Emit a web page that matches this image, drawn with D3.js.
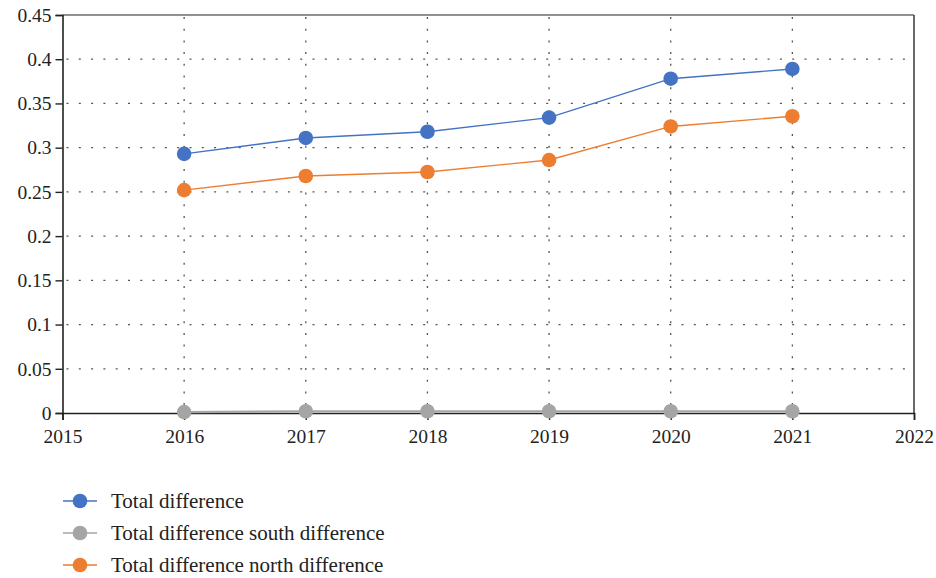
<!DOCTYPE html>
<html>
<head>
<meta charset="utf-8">
<script src="https://cdn.jsdelivr.net/npm/d3@7"></script>
<style>
  body { margin: 0; background: #fff; }
  text { font-family: "Liberation Serif", "DejaVu Serif", serif; fill: #222; }
</style>
</head>
<body>
<script>
// data
var years = [2016, 2017, 2018, 2019, 2020, 2021];
var totalDiff = [0.293, 0.311, 0.318, 0.334, 0.378, 0.389];
var southDiff = [0.001, 0.002, 0.002, 0.002, 0.002, 0.002];
var northDiff = [0.252, 0.268, 0.2725, 0.286, 0.324, 0.3355];
var xTicks = [2015, 2016, 2017, 2018, 2019, 2020, 2021, 2022];
var yTicks = [0, 0.05, 0.1, 0.15, 0.2, 0.25, 0.3, 0.35, 0.4, 0.45];

var series = [
  { name: "Total difference", values: totalDiff, color: "#4472C4" },
  { name: "Total difference south difference", values: southDiff, color: "#A5A5A5" },
  { name: "Total difference north difference", values: northDiff, color: "#ED7D31" }
];

var W = 936, H = 578;
var mLeft = 62.5, mRight = 914, mTop = 15, mBottom = 413;

var svg = d3.select("body").append("svg")
  .attr("width", W)
  .attr("height", H);

var x = d3.scaleLinear().domain([2015, 2022]).range([mLeft, mRight]);
var y = d3.scaleLinear().domain([0, 0.45]).range([mBottom, mTop]);

// dotted grid
svg.append("g").selectAll("line")
  .data(yTicks.filter(function(d) { return d > 0 && d < 0.45; }))
  .enter().append("line")
  .attr("x1", mLeft + 4).attr("x2", mRight - 6)
  .attr("y1", function(d) { return y(d); })
  .attr("y2", function(d) { return y(d); })
  .attr("stroke", "#555")
  .attr("stroke-width", 1.3)
  .attr("stroke-dasharray", "2,10.3");

svg.append("g").selectAll("line")
  .data(years)
  .enter().append("line")
  .attr("x1", function(d) { return x(d); })
  .attr("x2", function(d) { return x(d); })
  .attr("y1", mTop + 2).attr("y2", mBottom)
  .attr("stroke", "#555")
  .attr("stroke-width", 1.3)
  .attr("stroke-dasharray", "2,9.7");

// frame: top and right
svg.append("line")
  .attr("x1", mLeft).attr("x2", mRight)
  .attr("y1", mTop).attr("y2", mTop)
  .attr("stroke", "#222").attr("stroke-width", 1.2);
svg.append("line")
  .attr("x1", mRight).attr("x2", mRight)
  .attr("y1", mTop).attr("y2", mBottom)
  .attr("stroke", "#444").attr("stroke-width", 1.6);

// axes
var yAxis = svg.append("g")
  .attr("transform", "translate(" + mLeft + ",0)")
  .call(d3.axisLeft(y).tickValues(yTicks).tickSize(7).tickPadding(4)
    .tickFormat(function(d) { return String(+d.toFixed(2)); }));
var xAxis = svg.append("g")
  .attr("transform", "translate(0," + mBottom + ")")
  .call(d3.axisBottom(x).tickValues(xTicks).tickSize(7).tickPadding(9)
    .tickFormat(d3.format("d")));

[yAxis, xAxis].forEach(function(a) {
  a.select(".domain").attr("stroke", "#222").attr("stroke-width", 1.6);
  a.selectAll(".tick line").attr("stroke", "#222").attr("stroke-width", 1.4);
  a.selectAll("text").style("font-size", "19.5px").attr("fill", "#222");
});
xAxis.selectAll(".tick line").attr("y1", -3);
xAxis.selectAll(".tick").filter(function(d) { return d === 2015 || d === 2022; })
  .select("line").attr("y1", 0);

// lines and markers
var line = d3.line()
  .x(function(d, i) { return x(years[i]); })
  .y(function(d) { return y(d); });

var order = [1, 0, 2];
order.forEach(function(k) {
  var s = series[k];
  svg.append("path")
    .datum(s.values)
    .attr("fill", "none")
    .attr("stroke", s.color)
    .attr("stroke-width", k === 1 ? 2.2 : 1.4)
    .attr("d", line);
  svg.append("g").selectAll("circle")
    .data(s.values)
    .enter().append("circle")
    .attr("cx", function(d, i) { return x(years[i]); })
    .attr("cy", function(d) { return y(d); })
    .attr("r", 7.3)
    .attr("fill", s.color);
});

// legend
var legend = svg.append("g");
var rows = legend.selectAll("g")
  .data(series)
  .enter().append("g")
  .attr("transform", function(d, i) { return "translate(0," + (501 + i * 32) + ")"; });
rows.append("line")
  .attr("x1", 63).attr("x2", 97)
  .attr("stroke", function(d) { return d.color; })
  .attr("stroke-width", 1.4);
rows.append("circle")
  .attr("cx", 80).attr("r", 7.3)
  .attr("fill", function(d) { return d.color; });
rows.append("text")
  .attr("x", 111).attr("dy", "0.33em")
  .style("font-size", "21px")
  .text(function(d) { return d.name; });
</script>
</body>
</html>
